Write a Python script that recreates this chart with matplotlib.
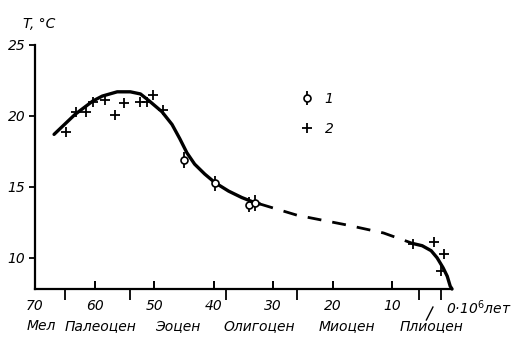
import numpy as np
import matplotlib.pyplot as plt
from matplotlib.transforms import blended_transform_factory

# Temperature curve (age in Myr, T in deg C)
early_age = [66.8, 63.3, 60.3, 58.7, 56.2, 54, 52.3, 50.8, 48.7, 47, 45.7, 44.5, 43.2, 41.5, 39.8, 37.5, 35.3, 33.2, 32.3]
early_T = [18.7, 20.1, 21.05, 21.4, 21.7, 21.7, 21.55, 21.05, 20.3, 19.4, 18.4, 17.4, 16.6, 15.9, 15.3, 14.7, 14.25, 13.9, 13.8]

dash_age = [32.3, 26, 17.5, 11.5, 6.5]
dash_T = [13.8, 13.0, 12.3, 11.75, 11.0]

late_age = [6.5, 5, 3.5, 2.5, 1.5, 0.8, 0.3, 0]
late_T = [11.0, 10.85, 10.5, 10.0, 9.3, 8.7, 8.0, 7.8]

# series 1 (circles with error bars)
circ_age = [45, 39.8, 34, 33]
circ_T = [16.9, 15.25, 13.75, 13.85]
circ_err = [0.55, 0.55, 0.55, 0.55]

# series 2 (crosses)
cross_age = [64.8, 63.2, 61.5, 60.2, 58.2, 56.5, 55, 52.3, 51.2, 50.2, 48.5, 6.5, 3.0, 1.3, 1.8]
cross_T = [18.9, 20.3, 20.3, 21.0, 21.1, 20.1, 20.9, 21.0, 21.0, 21.5, 20.4, 11.0, 11.1, 10.3, 9.1]

epoch_names = ['Мел', 'Палеоцен', 'Эоцен', 'Олигоцен', 'Миоцен', 'Плиоцен']
epoch_pos = [68.9, 59, 46, 32.3, 17.7, 3.5]
boundaries = [65, 54, 38, 26, 5.5, 1.8]

x_ticks = [70, 60, 50, 40, 30, 20, 10]
y_ticks = [10, 15, 20, 25]

fs = 10
font = dict(fontstyle='italic', fontsize=fs)

fig = plt.figure(figsize=(5.18, 3.46), dpi=100)
ax = fig.add_axes([35 / 518, 1 - 289 / 346, (452 - 35) / 518, (289 - 45) / 346])

ax.plot(early_age, early_T, color='black', lw=2.4, solid_capstyle='round', solid_joinstyle='round')
ax.plot(dash_age, dash_T, color='black', lw=2.0, dashes=(5, 4))
ax.plot(late_age, late_T, color='black', lw=2.4, solid_capstyle='round', solid_joinstyle='round',
        clip_on=False)

eb = ax.errorbar(circ_age, circ_T, yerr=circ_err, fmt='o', ms=5, mfc='white', mec='black',
                 mew=1.2, ecolor='black', elinewidth=1.3, capsize=0, zorder=5)
cr, = ax.plot(cross_age, cross_T, '+', color='black', ms=7, mew=1.3, zorder=5)

ax.set_xlim(69.5, 0)
ax.set_ylim(7.8, 25)

ax.spines['top'].set_visible(False)
ax.spines['right'].set_visible(False)
ax.spines['left'].set_linewidth(1.6)
ax.spines['bottom'].set_linewidth(1.6)

ax.set_xticks(x_ticks)
ax.set_xticklabels([str(v) for v in x_ticks], **font)
ax.set_xticks(boundaries, minor=True)
ax.tick_params(axis='x', which='major', direction='in', length=6, width=1.4, pad=7)
ax.tick_params(axis='x', which='minor', direction='out', length=8, width=1.3)
# the 70 tick sits on the corner, hide it
ax.xaxis.get_major_ticks()[0].tick1line.set_visible(False)

ax.set_yticks(y_ticks)
ax.set_yticklabels([str(v) for v in y_ticks], **font)
ax.tick_params(axis='y', direction='out', length=4, width=1.3, pad=3)

# zero label with units
ax.annotate('0·10$^6$лет', xy=(0, 0), xycoords=('data', 'axes fraction'),
            xytext=(-4, -7), textcoords='offset points', ha='left', va='top', **font)

# epoch names below the axis
trans = blended_transform_factory(ax.transData, ax.transAxes)
for name, pos in zip(epoch_names, epoch_pos):
    ax.text(pos, -0.15, name, transform=trans, ha='center', va='center', **font)
ax.plot([4.3, 3.2], [-0.127, -0.074], color='black', lw=1.0, transform=trans, clip_on=False)

fig.text(23 / 518, 1 - 24 / 346, 'T, °C', ha='left', va='center', **font)

ax.legend([eb, cr], ['1', '2'], loc='upper left', bbox_to_anchor=(0.605, 0.86), frameon=False,
          handlelength=1.0, handletextpad=0.8, labelspacing=1.2, prop=dict(style='italic', size=fs))

fig.savefig('out.png', dpi=100)
